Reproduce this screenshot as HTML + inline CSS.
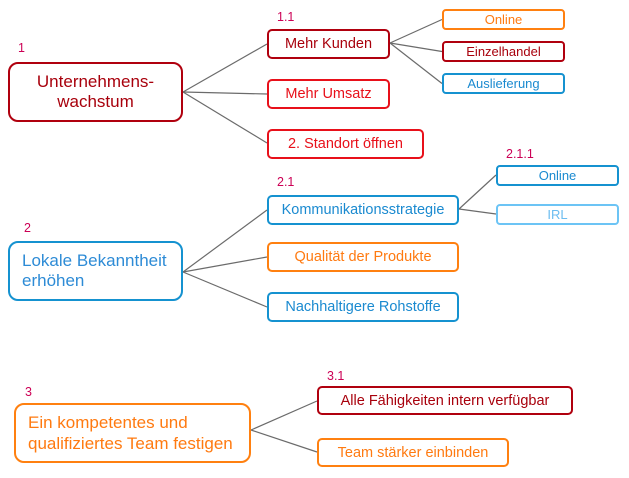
<!DOCTYPE html>
<html><head><meta charset="utf-8">
<style>
html,body{margin:0;padding:0;background:#fff;}
body{width:629px;height:478px;position:relative;overflow:hidden;font-family:"Liberation Sans",Arial,sans-serif;}
.b{position:absolute;box-sizing:border-box;border:2px solid;background:#fff;display:flex;align-items:center;justify-content:center;white-space:nowrap;}
.big{border-radius:10px;font-size:17px;line-height:20px;}
.mid{border-radius:5px;font-size:14.5px;}
.leaf{border-radius:4px;font-size:13px;}
.lbl{position:absolute;font-size:12.5px;color:#cc0055;line-height:14px;}
.dr{border-color:#b0000e;color:#a8000c;}
.rd{border-color:#e8101a;color:#e8101a;}
.or{border-color:#ff8010;color:#ff7a10;}
.bl{border-color:#1592d0;color:#1a8ad0;}
.lb{border-color:#6cc4f5;color:#6cbdf0;}
svg{position:absolute;left:0;top:0;}
</style></head><body>
<svg width="629" height="478">
<g stroke="#6b6b6b" stroke-width="1.2" fill="none">
<line x1="183" y1="92" x2="267" y2="44"/>
<line x1="183" y1="92" x2="267" y2="94"/>
<line x1="183" y1="92" x2="267" y2="143"/>
<line x1="390" y1="43" x2="442" y2="19.5"/>
<line x1="390" y1="43" x2="442" y2="51.5"/>
<line x1="390" y1="43" x2="442" y2="83.5"/>
<line x1="183" y1="272" x2="267" y2="210"/>
<line x1="183" y1="272" x2="267" y2="257"/>
<line x1="183" y1="272" x2="267" y2="307"/>
<line x1="459" y1="209" x2="496" y2="175"/>
<line x1="459" y1="209" x2="496" y2="214"/>
<line x1="251" y1="430" x2="317" y2="401"/>
<line x1="251" y1="430" x2="317" y2="452"/>
</g>
</svg>

<div class="lbl" style="left:18px;top:41px;">1</div>
<div class="b big dr" style="left:8px;top:62px;width:175px;height:60px;text-align:center;">Unternehmens-<br>wachstum</div>

<div class="lbl" style="left:277px;top:10px;">1.1</div>
<div class="b mid dr" style="left:267px;top:29px;width:123px;height:30px;">Mehr Kunden</div>
<div class="b mid rd" style="left:267px;top:79px;width:123px;height:30px;">Mehr Umsatz</div>
<div class="b mid rd" style="left:267px;top:129px;width:157px;height:30px;">2. Standort öffnen</div>

<div class="b leaf or" style="left:442px;top:9px;width:123px;height:21px;">Online</div>
<div class="b leaf dr" style="left:442px;top:41px;width:123px;height:21px;">Einzelhandel</div>
<div class="b leaf bl" style="left:442px;top:73px;width:123px;height:21px;">Auslieferung</div>

<div class="lbl" style="left:24px;top:221px;">2</div>
<div class="b big bl" style="left:8px;top:241px;width:175px;height:60px;justify-content:flex-start;padding-left:12px;color:#2d8bd6;">Lokale Bekanntheit<br>erhöhen</div>

<div class="lbl" style="left:277px;top:175px;">2.1</div>
<div class="b mid bl" style="left:267px;top:195px;width:192px;height:30px;">Kommunikationsstrategie</div>
<div class="b mid or" style="left:267px;top:242px;width:192px;height:30px;">Qualität der Produkte</div>
<div class="b mid bl" style="left:267px;top:292px;width:192px;height:30px;">Nachhaltigere Rohstoffe</div>

<div class="lbl" style="left:506px;top:147px;">2.1.1</div>
<div class="b leaf bl" style="left:496px;top:165px;width:123px;height:21px;">Online</div>
<div class="b leaf lb" style="left:496px;top:204px;width:123px;height:21px;">IRL</div>

<div class="lbl" style="left:25px;top:385px;">3</div>
<div class="b big or" style="left:14px;top:403px;width:237px;height:60px;justify-content:flex-start;padding-left:12px;line-height:21px;">Ein kompetentes und<br>qualifiziertes Team festigen</div>

<div class="lbl" style="left:327px;top:369px;">3.1</div>
<div class="b mid dr" style="left:317px;top:386px;width:256px;height:29px;">Alle Fähigkeiten intern verfügbar</div>
<div class="b mid or" style="left:317px;top:438px;width:192px;height:29px;">Team stärker einbinden</div>
</body></html>
